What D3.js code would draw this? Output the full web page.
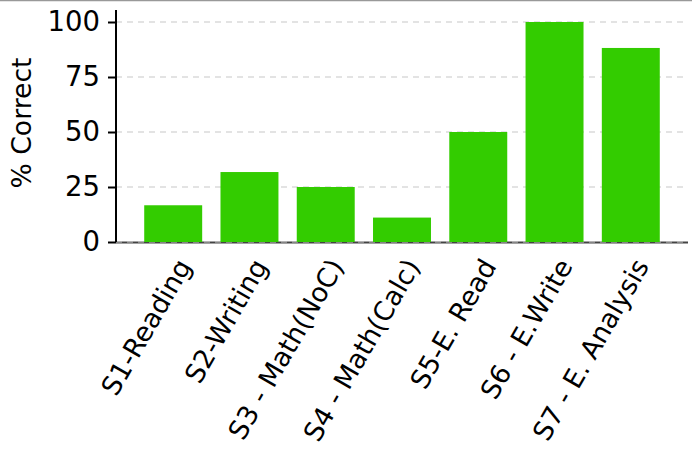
<!DOCTYPE html>
<html>
<head>
<meta charset="utf-8">
<script src="https://cdn.jsdelivr.net/npm/d3@7"></script>
<style>
  body { margin: 0; background: #fff; }
  text { font-family: "DejaVu Sans", sans-serif; }
</style>
</head>
<body>
<svg id="chart" width="692" height="450"></svg>
<script>
const sections = ["S1-Reading", "S2-Writing", "S3 - Math(NoC)", "S4 - Math(Calc)",
    "S5-E. Read", "S6 - E.Write", "S7 - E. Analysis"];
const pctCorrect = [16.7, 31.8, 25, 11.1, 50, 100, 88.2];
const yTicks = [0, 25, 50, 75, 100];

const svg = d3.select("#chart");

const plotLeft = 116, plotRight = 688, plotTop = 11, plotBottom = 242;
const fontPx = 26.67;

const x = d3.scaleBand()
    .domain(sections)
    .range([plotLeft, plotRight])
    .paddingInner(0.24)
    .paddingOuter(0.37);

const y = d3.scaleLinear()
    .domain([0, 105])
    .range([plotBottom, plotTop]);

// thin border line along the top
svg.append("line")
    .attr("x1", 0).attr("x2", 692)
    .attr("y1", 0.5).attr("y2", 0.5)
    .attr("stroke", "#999")
    .attr("stroke-width", 1.5);

// baseline
svg.append("line")
    .attr("x1", plotLeft).attr("x2", plotRight)
    .attr("y1", plotBottom + 0.5).attr("y2", plotBottom + 0.5)
    .attr("stroke", "#444")
    .attr("stroke-width", 2);

// grid
svg.append("g")
    .selectAll("line")
    .data(yTicks)
    .enter()
    .append("line")
    .attr("x1", plotLeft).attr("x2", plotRight)
    .attr("y1", d => y(d)).attr("y2", d => y(d))
    .attr("stroke", "#c8c8c8")
    .attr("stroke-width", 1.2)
    .attr("stroke-dasharray", "6,5");

// bars
svg.append("g")
    .selectAll("rect")
    .data(sections)
    .enter()
    .append("rect")
    .attr("x", d => x(d))
    .attr("width", x.bandwidth())
    .attr("y", (d, i) => y(pctCorrect[i]))
    .attr("height", (d, i) => y(0) - y(pctCorrect[i]))
    .attr("fill", "#33cc00");

// y axis
const yAxis = svg.append("g")
    .attr("transform", `translate(${plotLeft},0)`)
    .call(d3.axisLeft(y).tickValues(yTicks).tickSize(8).tickPadding(8));

yAxis.select(".domain")
    .attr("d", `M0,${plotTop - 1}V${plotBottom}`)
    .attr("stroke", "#000")
    .attr("stroke-width", 2);
yAxis.selectAll(".tick line").attr("stroke", "#000").attr("stroke-width", 2);
yAxis.selectAll(".tick text")
    .attr("font-size", 27.5)
    .attr("fill", "#000")
    .attr("font-family", "DejaVu Sans");

// x labels
svg.append("g")
    .selectAll("text")
    .data(sections)
    .enter()
    .append("text")
    .attr("transform", d => `translate(${x(d) + x.bandwidth() / 2 + 19},${plotBottom + 24}) rotate(-60)`)
    .attr("text-anchor", "end")
    .attr("font-size", fontPx)
    .attr("fill", "#000")
    .text(d => d);

// y label
svg.append("text")
    .attr("transform", `translate(31,123) rotate(-90)`)
    .attr("text-anchor", "middle")
    .attr("font-size", fontPx)
    .attr("fill", "#000")
    .text("% Correct");
</script>
</body>
</html>
